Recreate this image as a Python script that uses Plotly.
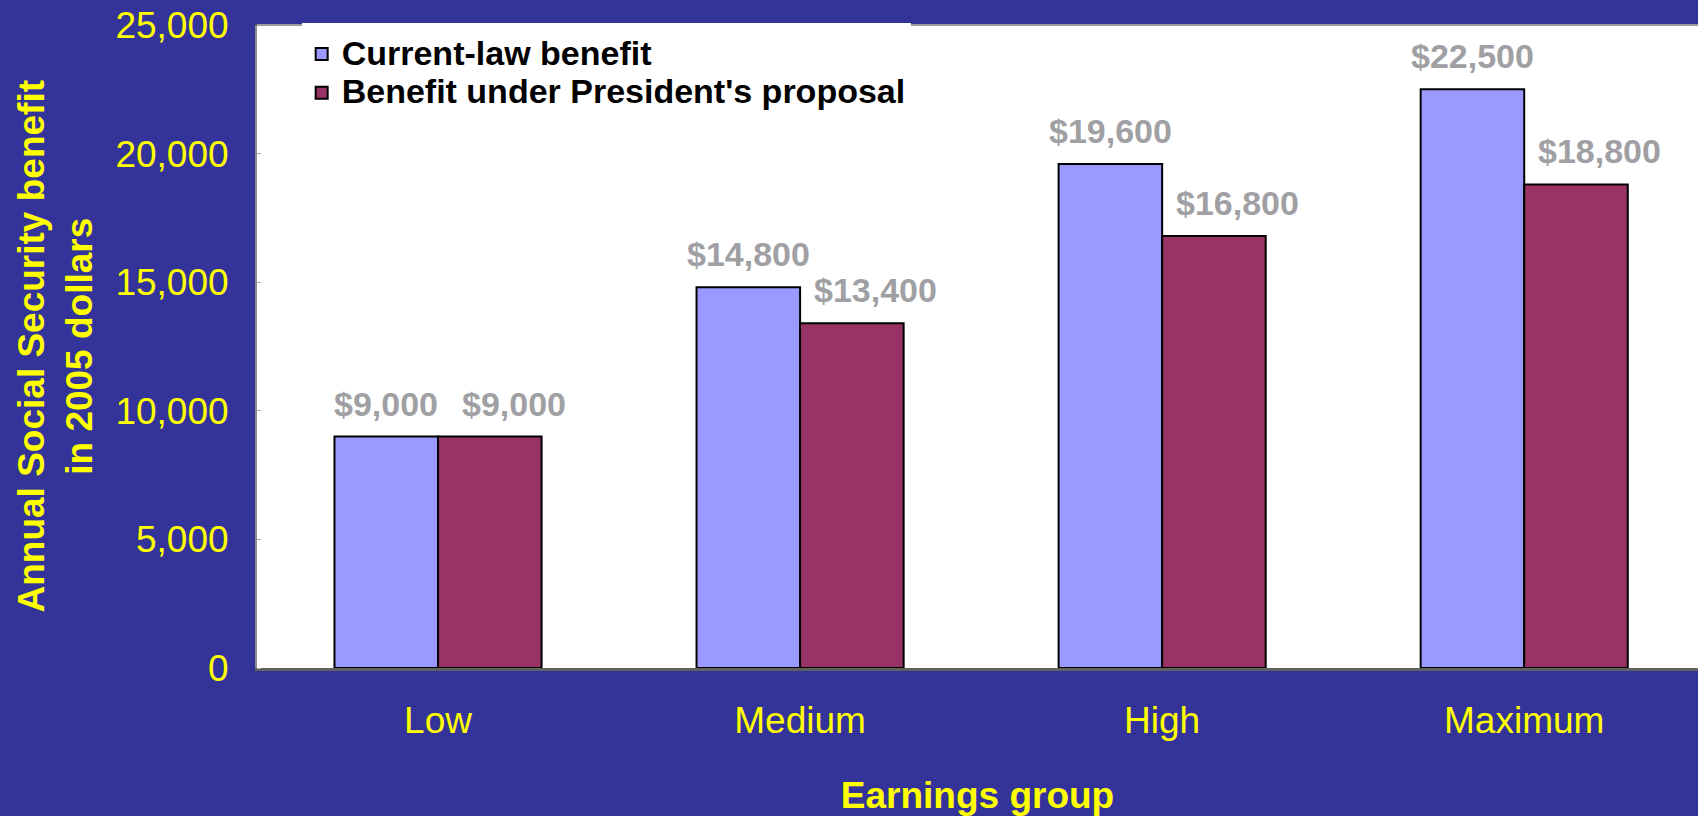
import plotly.graph_objects as go

categories = ["Low", "Medium", "High", "Maximum"]
current_law = [9000, 14800, 19600, 22500]
proposal = [9000, 13400, 16800, 18800]
series_names = ["Current-law benefit", "Benefit under President's proposal"]
y_ticks = [0, 5000, 10000, 15000, 20000, 25000]

BG = "#333399"
YELLOW = "#FFFF00"
LABEL_GRAY = "#A0A0A4"
FONT = "Liberation Sans, Arial, sans-serif"
BARGAP = 0.428

fig = go.Figure()
fig.add_trace(go.Bar(
    name=f'<span style="font-size:34px">{series_names[0]}</span>',
    x=categories, y=current_law,
    marker=dict(color="#9999FF", line=dict(color="black", width=2)),
))
fig.add_trace(go.Bar(
    name=f'<span style="font-size:34px">{series_names[1]}</span>',
    x=categories, y=proposal,
    marker=dict(color="#993366", line=dict(color="black", width=2)),
))

# value labels positioned at each bar (category index +/- quarter of group width)
half = (1 - BARGAP) / 4
for s, (vals, off, xs) in enumerate([(current_law, -half, 0), (proposal, half, 24)]):
    for i, v in enumerate(vals):
        fig.add_annotation(
            x=i + off, y=v, xref="x", yref="y",
            text=f"<b>${v:,}</b>", showarrow=False,
            xanchor="center", yanchor="middle", xshift=xs, yshift=33,
            font=dict(family=FONT, size=34, color=LABEL_GRAY),
        )

# y-axis title
fig.add_annotation(
    xref="paper", yref="paper", x=0, y=0.5, xshift=-202,
    text="<b>Annual Social Security benefit<br>in 2005 dollars</b>",
    textangle=-90, showarrow=False, xanchor="center", yanchor="middle",
    font=dict(family=FONT, size=37, color=YELLOW),
)

# top border of the plot area
fig.add_shape(type="line", xref="paper", yref="paper", x0=0, x1=1, y0=1, y1=1,
              line=dict(color="#999999", width=2))

fig.update_layout(
    width=1698, height=816,
    margin=dict(l=257, r=0, t=25, b=148),
    paper_bgcolor=BG, plot_bgcolor="white",
    barmode="group", bargap=BARGAP, bargroupgap=0,
    font=dict(family=FONT, color=YELLOW),
    showlegend=True,
    legend=dict(
        x=0.031, y=1.003, xanchor="left", yanchor="top",
        bgcolor="white", borderwidth=0,
        font=dict(family=FONT, size=27.5, color="black", weight="bold"),
        title=dict(text=" ", font=dict(size=5)),
        tracegroupgap=0,
    ),
    xaxis=dict(
        type="category", range=[-0.5, 3.48],
        tickfont=dict(family=FONT, size=37, color=YELLOW),
        showline=True, linecolor="#606060", linewidth=3,
        showgrid=False, zeroline=False, ticks="",
        ticklabelstandoff=18,
        title=dict(text="<b>Earnings group</b>", standoff=42,
                   font=dict(family=FONT, size=37, color=YELLOW)),
    ),
    yaxis=dict(
        range=[0, 25000], tickvals=y_ticks, tickformat=",d",
        tickfont=dict(family=FONT, size=37, color=YELLOW),
        showline=True, linecolor="#8C8C8C", linewidth=2,
        showgrid=False, zeroline=False,
        ticks="outside", ticklen=19, tickcolor=BG,
        minor=dict(tickvals=y_ticks, ticks="inside", ticklen=4, tickcolor="#B0B0B0"),
    ),
)

fig.write_html(
    "out.html",
    config={"displayModeBar": False},
    post_script="document.body.style.margin='0';document.body.style.overflow='hidden';",
)
